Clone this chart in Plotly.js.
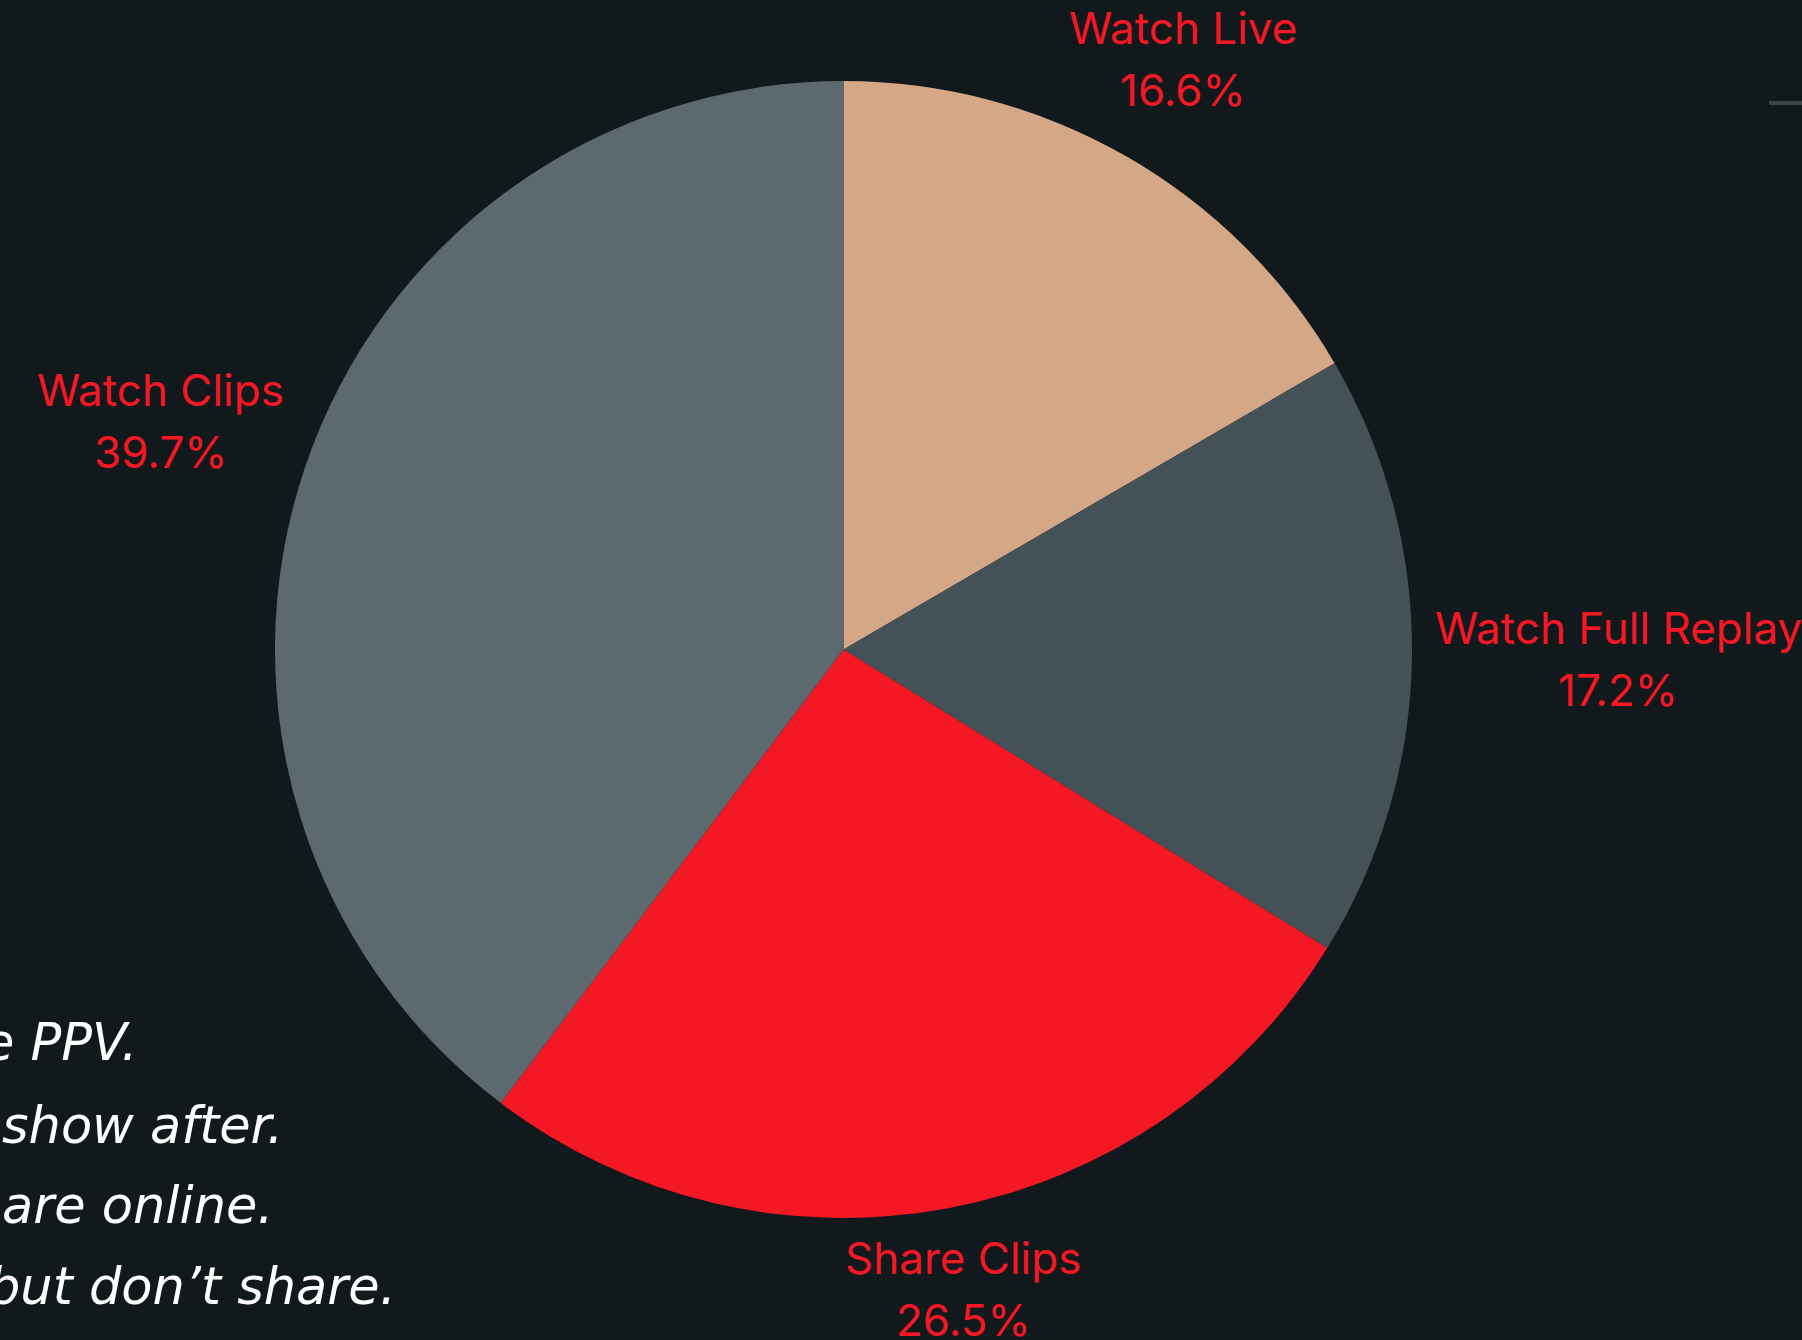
<!DOCTYPE html>
<html>
<head>
<meta charset="utf-8">
<script src="https://cdn.plot.ly/plotly-3.0.1.min.js"></script>
<style>
  html, body { margin: 0; padding: 0; background: #12191c; }
  #chart { width: 1802px; height: 1340px; }
</style>
</head>
<body>
<div id="chart"></div>
<script>
// Data
const categories = ["Watch Live", "Watch Full Replay", "Share Clips", "Watch Clips"];
const shares = [16.6, 17.2, 26.5, 39.7];
const sliceColors = ["#d4a887", "#445157", "#f31823", "#5c696f"];

// Partially visible side text (cut off at the left edge)
const noteLines = ["e PPV.", "show after.", "are online.", "but don’t share."];
const noteRightEdges = [139, 285, 276, 398];   // px where each line ends
const noteBaselines = [1059, 1142, 1222, 1303]; // px from top

const W = 1802, H = 1340;
const domX = [275 / W, 1412 / W];
const domY = [1 - 1218 / H, 1 - 81 / H];

const trace = {
  type: "pie",
  labels: categories,
  values: shares,
  sort: false,
  direction: "clockwise",
  rotation: 0,
  marker: { colors: sliceColors, line: { width: 0 } },
  textinfo: "none",
  hoverinfo: "label+percent",
  domain: { x: domX, y: domY },
  showlegend: false
};

// Slice labels: placed radially outside each slice's mid-angle
const labelFont = "Inter";
const labelSize = 44;
const lineGap = 62;
const gap = 22;
const cx = (domX[0] + domX[1]) / 2 * W;
const cy = (1 - (domY[0] + domY[1]) / 2) * H;
const r = Math.min((domX[1] - domX[0]) * W, (domY[1] - domY[0]) * H) / 2;
const ctx = document.createElement("canvas").getContext("2d");
ctx.font = labelSize + "px " + labelFont;
const total = shares.reduce((a, b) => a + b, 0);

const annotations = [];
let cum = 0;
categories.forEach((name, i) => {
  const mid = (cum + shares[i] / 2) / total * 2 * Math.PI;
  cum += shares[i];
  const ux = Math.sin(mid), uy = -Math.cos(mid);
  const pct = (shares[i] / total * 100).toFixed(1) + "%";
  const hw = Math.max(ctx.measureText(name).width, ctx.measureText(pct).width) / 2;
  const hh = 0.63 * lineGap;
  const d = r + gap + Math.abs(ux) * hw + Math.abs(uy) * hh;
  const px = cx + ux * d, py = cy + uy * d;
  [[name, py - lineGap / 2], [pct, py + lineGap / 2]].forEach(([t, yy]) => {
    annotations.push({
      text: t, xref: "paper", yref: "paper",
      x: px / W, y: 1 - yy / H,
      xanchor: "center", yanchor: "middle", showarrow: false,
      font: { family: labelFont + ", 'Liberation Sans', sans-serif", size: labelSize, color: "#f31823" }
    });
  });
});

const noteSize = 51;
noteLines.forEach((t, i) => annotations.push({
  text: t,
  xref: "paper", yref: "paper",
  x: noteRightEdges[i] / W,
  y: 1 - (noteBaselines[i] - noteSize * 0.33) / H,
  xanchor: "right", yanchor: "middle",
  showarrow: false,
  align: "left",
  font: { family: "'DejaVu Sans', sans-serif", size: noteSize, color: "#ffffff", style: "italic" }
}));

const layout = {
  width: W, height: H,
  margin: { l: 0, r: 0, t: 0, b: 0 },
  paper_bgcolor: "#12191c",
  plot_bgcolor: "#12191c",
  annotations: annotations,
  shapes: [{
    type: "line", xref: "paper", yref: "paper",
    x0: 1769 / W, x1: 1 + 5 / W, y0: 1 - 103 / H, y1: 1 - 103 / H,
    line: { color: "#39454a", width: 4 }
  }]
};

Plotly.newPlot("chart", [trace], layout, { displayModeBar: false, staticPlot: true });
</script>
</body>
</html>
